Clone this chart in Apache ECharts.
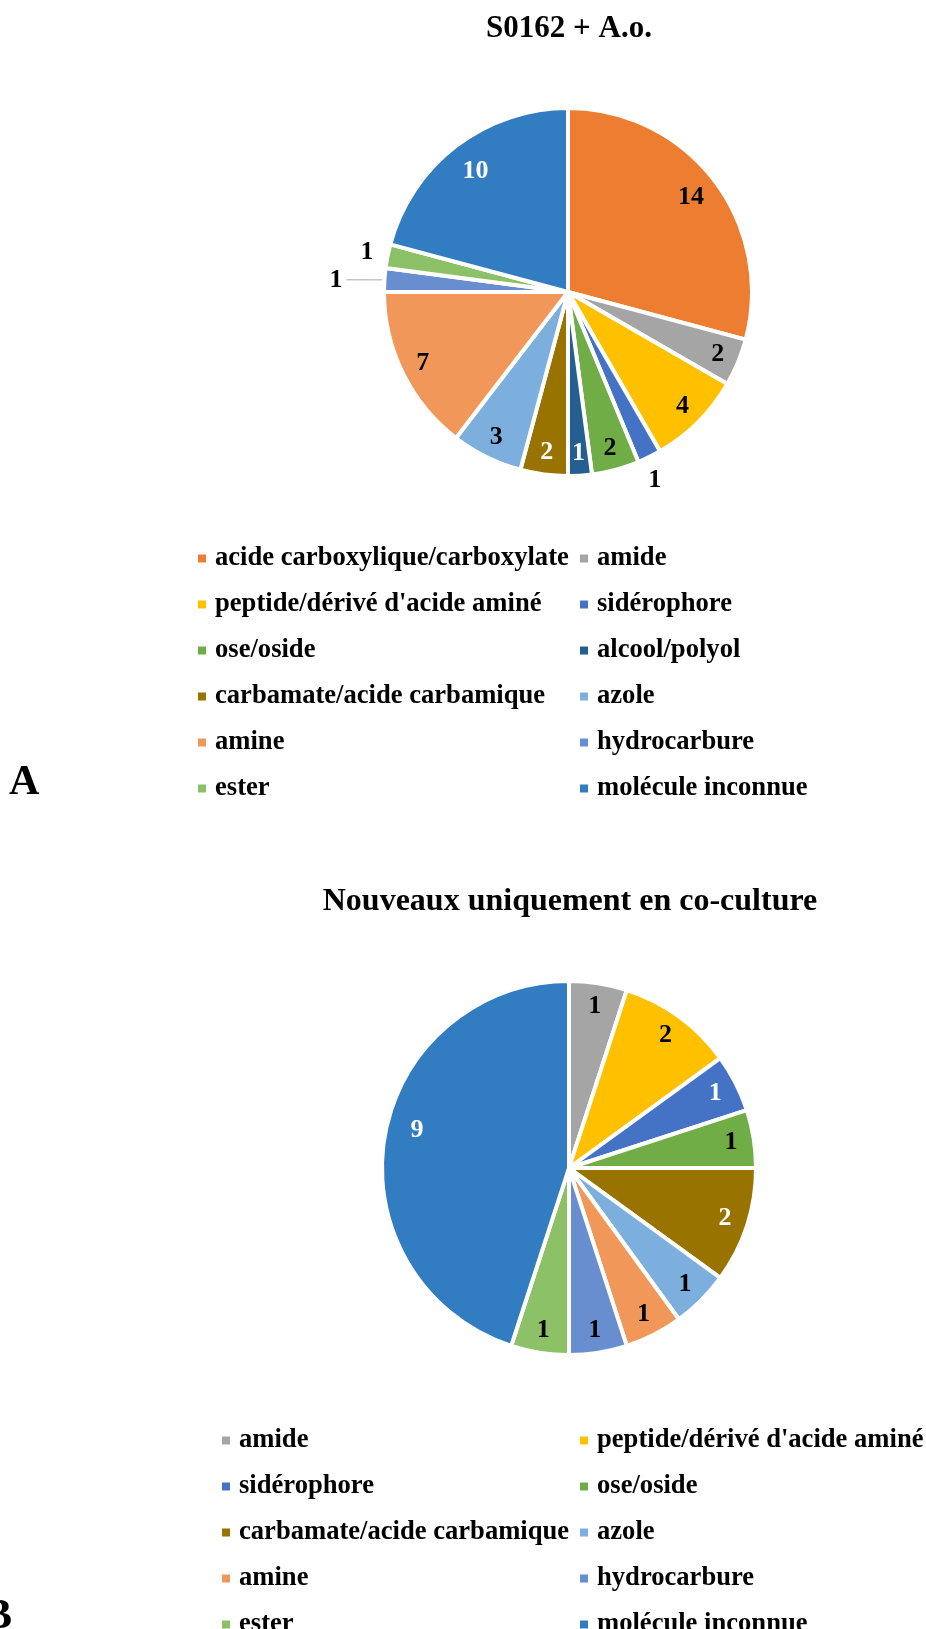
<!DOCTYPE html>
<html>
<head>
<meta charset="utf-8">
<script src="https://cdn.jsdelivr.net/npm/echarts@6/dist/echarts.min.js"></script>
<style>
html,body{margin:0;padding:0;background:#fff;}
#chart{width:926px;height:1629px;}
</style>
</head>
<body>
<div id="chart"></div>
<script>
// ---------- DATA ----------
const titleA = 'S0162 + A.o.';
const titleB = 'Nouveaux uniquement en co-culture';
const panelLabels = ['A', 'B'];

const categoriesA = ['acide carboxylique/carboxylate', 'amide', "peptide/dérivé d'acide aminé", 'sidérophore', 'ose/oside', 'alcool/polyol', 'carbamate/acide carbamique', 'azole', 'amine', 'hydrocarbure', 'ester', 'molécule inconnue'];
const valuesA = [14, 2, 4, 1, 2, 1, 2, 3, 7, 1, 1, 10];

const categoriesB = ['amide', "peptide/dérivé d'acide aminé", 'sidérophore', 'ose/oside', 'carbamate/acide carbamique', 'azole', 'amine', 'hydrocarbure', 'ester', 'molécule inconnue'];
const valuesB = [1, 2, 1, 1, 2, 1, 1, 1, 1, 9];

const legendA_col1 = ['acide carboxylique/carboxylate', "peptide/dérivé d'acide aminé", 'ose/oside', 'carbamate/acide carbamique', 'amine', 'ester'];
const legendA_col2 = ['amide', 'sidérophore', 'alcool/polyol', 'azole', 'hydrocarbure', 'molécule inconnue'];
const legendB_col1 = ['amide', 'sidérophore', 'carbamate/acide carbamique', 'amine', 'ester'];
const legendB_col2 = ["peptide/dérivé d'acide aminé", 'ose/oside', 'azole', 'hydrocarbure', 'molécule inconnue'];

// ---------- STYLES ----------
const COLORS = {
  'acide carboxylique/carboxylate': '#ED7D31',
  'amide': '#A5A5A5',
  "peptide/dérivé d'acide aminé": '#FFC000',
  'sidérophore': '#4472C4',
  'ose/oside': '#70AD47',
  'alcool/polyol': '#255E91',
  'carbamate/acide carbamique': '#997300',
  'azole': '#7CAFDD',
  'amine': '#F1975A',
  'hydrocarbure': '#698ED0',
  'ester': '#8CC168',
  'molécule inconnue': '#327DC2'
};
const FONT = '"Liberation Serif", "Times New Roman", Times, serif';
const whiteLabelsA = ['alcool/polyol', 'carbamate/acide carbamique', 'molécule inconnue'];
const whiteLabelsB = ['sidérophore', 'carbamate/acide carbamique', 'molécule inconnue'];
// label nudges: number = radial shift, array = [dx, dy]
const labelNudgeA = { 'sidérophore': [15, 43], 'ester': [-42, -8], 'acide carboxylique/carboxylate': -7, 'molécule inconnue': -10 };
const labelNudgeB = { 'molécule inconnue': [10, -12] };
const leaderA = 'hydrocarbure';

const centerA = [568, 292], RA = 182;
const centerB = [569, 1168], RB = 185;
const LABEL_SIZE = 26;

function mainSeries(cats, vals, center, R, leaderName) {
  return {
    type: 'pie', center: center, radius: [0, R + 2], startAngle: 90, clockwise: true,
    avoidLabelOverlap: false, silent: true, animation: false,
    itemStyle: { borderColor: '#fff', borderWidth: 4 },
    label: { show: false }, labelLine: { show: false },
    emphasis: { disabled: true },
    data: cats.map(function (n, i) {
      const d = { name: n, value: vals[i], itemStyle: { color: COLORS[n] } };
      if (n === leaderName) {
        d.label = { show: true, position: 'outside', fontSize: LABEL_SIZE, fontWeight: 'bold', fontFamily: FONT, color: '#000', distanceToLabelLine: 4, formatter: '{c}' };
        d.labelLine = { show: true, length: 2, length2: 36, smooth: 0.2, lineStyle: { color: '#A6A6A6', width: 1 } };
      }
      return d;
    })
  };
}

function labelSeries(cats, vals, center, r0, r1, whites, skip, nudge) {
  return {
    type: 'pie', center: center, radius: [r0, r1], startAngle: 90, clockwise: true,
    silent: true, animation: false, avoidLabelOverlap: false,
    itemStyle: { color: 'rgba(0,0,0,0)', borderWidth: 0 },
    label: { show: true, position: 'inside', rotate: 0, fontSize: LABEL_SIZE, fontWeight: 'bold', fontFamily: FONT, formatter: '{c}' },
    labelLine: { show: false },
    emphasis: { disabled: true },
    data: cats.map(function (n, i) {
      return { name: n, value: vals[i], itemStyle: { color: 'rgba(0,0,0,0)' },
        label: { show: n !== skip, color: whites.indexOf(n) >= 0 ? '#fff' : '#000' } };
    }),
    labelLayout: function (p) {
      const n = cats[p.dataIndex];
      const s = nudge && nudge[n];
      if (s === undefined || s === null) return {};
      if (Array.isArray(s)) return { dx: s[0], dy: s[1] };
      const r = p.labelRect;
      const cx = r.x + r.width / 2, cy = r.y + r.height / 2;
      const vx = cx - center[0], vy = cy - center[1];
      const L = Math.hypot(vx, vy) || 1;
      return { dx: vx / L * s, dy: vy / L * s };
    }
  };
}

function legend(names, left, top) {
  return {
    orient: 'vertical', left: left, top: top, height: 320, data: names, icon: 'rect',
    itemWidth: 8, itemHeight: 8, itemGap: 19, selectedMode: false, padding: 0,
    itemStyle: { borderWidth: 0 },
    textStyle: { fontSize: 26.6, fontWeight: 'bold', fontFamily: FONT, color: '#000', lineHeight: 26.4, padding: [0, 0, 0, 4] }
  };
}

const option = {
  backgroundColor: '#fff',
  animation: false,
  title: [
    { text: titleA, left: 569, top: 13, textAlign: 'center', padding: 0,
      textStyle: { fontSize: 31, fontWeight: 'bold', fontFamily: FONT, color: '#000' } },
    { text: titleB, left: 570, top: 886, textAlign: 'center', padding: 0,
      textStyle: { fontSize: 32, fontWeight: 'bold', fontFamily: FONT, color: '#000' } }
  ],
  legend: [
    legend(legendA_col1, 198, 545),
    legend(legendA_col2, 580, 545),
    legend(legendB_col1, 222, 1427),
    legend(legendB_col2, 580, 1427)
  ],
  graphic: [
    { type: 'text', left: 9, top: 762, style: { text: panelLabels[0], font: 'bold 42px ' + FONT, fill: '#000' } },
    { type: 'text', left: -16, top: 1596, style: { text: panelLabels[1], font: 'bold 42px ' + FONT, fill: '#000' } }
  ],
  series: [
    mainSeries(categoriesA, valuesA, centerA, RA, leaderA),
    mainSeries(categoriesB, valuesB, centerB, RB, null),
    labelSeries(categoriesA, valuesA, centerA, 141, 177, whiteLabelsA, leaderA, labelNudgeA),
    labelSeries(categoriesB, valuesB, centerB, 143, 179, whiteLabelsB, null, labelNudgeB)
  ]
};

const chart = echarts.init(document.getElementById('chart'), null, { renderer: 'canvas' });
chart.setOption(option);
</script>
</body>
</html>
